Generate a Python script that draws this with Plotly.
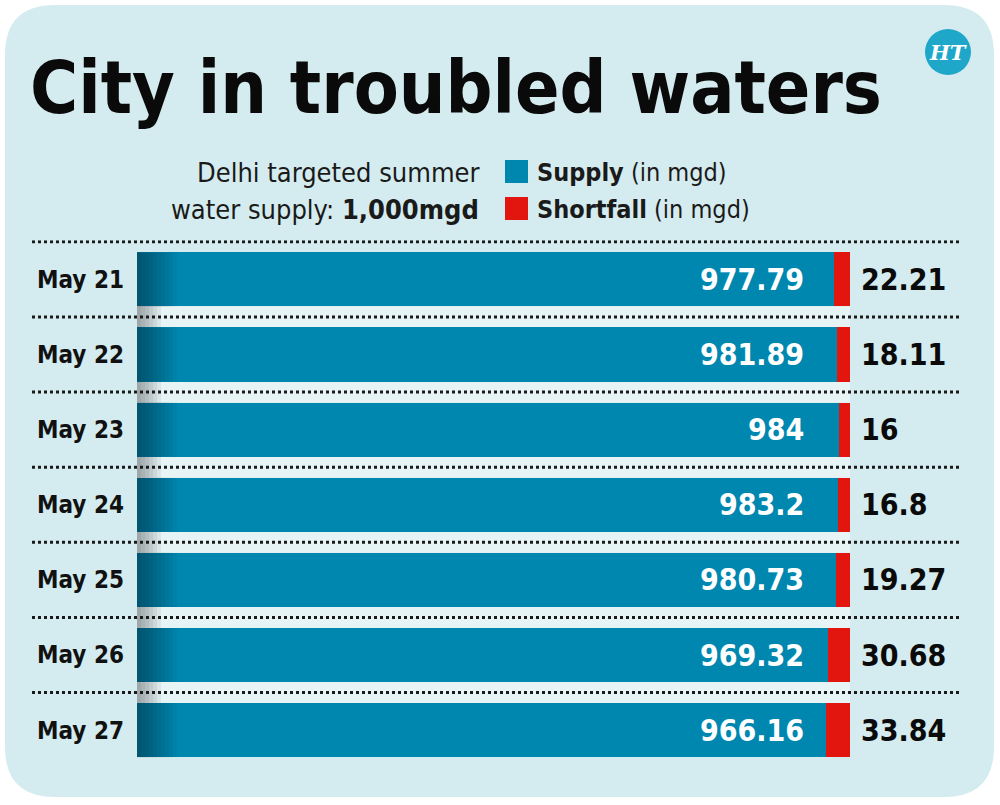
import plotly.graph_objects as go

dates = ["May 21", "May 22", "May 23", "May 24", "May 25", "May 26", "May 27"]
supply = [977.79, 981.89, 984, 983.2, 980.73, 969.32, 966.16]
shortfall = [22.21, 18.11, 16, 16.8, 19.27, 30.68, 33.84]

BLUE = "#0087b0"
RED = "#e2160f"
BG = "#d4ecef"
FONT = "DejaVu Sans Condensed"
W, H = 1000, 805

def px(x):
    return x / W

def py(y):
    return 1 - y / H

fig = go.Figure()
fig.add_trace(go.Bar(y=dates, x=supply, orientation="h", marker=dict(color=BLUE, line=dict(width=0)),
                     name="Supply", width=0.72, hoverinfo="x"))
fig.add_trace(go.Bar(y=dates, x=shortfall, orientation="h", marker=dict(color=RED, line=dict(width=0)),
                     name="Shortfall", width=0.72, hoverinfo="x"))

x0px, x1px = 137, 850
top_px, bot_px = 240.3, 767.7

def px2data(p):
    return (p - x0px) / (x1px - x0px) * 1000

shapes = []
r = 50
L, T, R, B = 5, 5, 994, 797
pts = [("M", [(L + r, T)]), ("L", [(R - r, T)]), ("Q", [(R, T), (R, T + r)]), ("L", [(R, B - r)]),
       ("Q", [(R, B), (R - r, B)]), ("L", [(L + r, B)]), ("Q", [(L, B), (L, B - r)]),
       ("L", [(L, T + r)]), ("Q", [(L, T), (L + r, T)])]
path = " ".join(cmd + " " + " ".join(f"{px(a):.5f},{py(b):.5f}" for a, b in cs) for cmd, cs in pts) + " Z"
shapes.append(dict(type="path", path=path, xref="paper", yref="paper", fillcolor=BG,
                   line=dict(width=0), layer="below"))
shapes.append(dict(type="circle", xref="paper", yref="paper", x0=px(925), x1=px(971), y0=py(75), y1=py(29),
                   fillcolor="#1ea7c9", line=dict(width=0), layer="above"))
shapes.append(dict(type="rect", xref="paper", yref="paper", x0=px(505), x1=px(528), y0=py(183), y1=py(160),
                   fillcolor=BLUE, line=dict(width=0)))
shapes.append(dict(type="rect", xref="paper", yref="paper", x0=px(505), x1=px(528), y0=py(220), y1=py(197),
                   fillcolor=RED, line=dict(width=0)))
# lighter strips in the gaps between bars
for i in range(1, len(dates)):
    shapes.append(dict(type="rect", xref="x", yref="y", x0=0, x1=1000, y0=i - 1 + 0.36, y1=i - 0.36,
                       fillcolor="white", opacity=0.45, line=dict(width=0), layer="below"))
# left shading gradient on bars and gaps
steps = 10
for i in range(len(dates)):
    for k in range(steps):
        shapes.append(dict(type="rect", xref="x", yref="y", x0=0, x1=px2data(137 + 4 * (k + 1)),
                           y0=i - 0.36, y1=i + 0.36, fillcolor="#000000", opacity=0.04,
                           line=dict(width=0), layer="above"))
for i in range(1, len(dates)):
    for k in range(6):
        shapes.append(dict(type="rect", xref="x", yref="y", x0=0, x1=px2data(137 + 4 * (k + 1)),
                           y0=i - 1 + 0.36, y1=i - 0.36, fillcolor="#000000", opacity=0.06,
                           line=dict(width=0), layer="above"))
# dotted separators
for i in range(len(dates)):
    shapes.append(dict(type="line", xref="paper", yref="y", x0=px(32), x1=px(960), y0=i - 0.5, y1=i - 0.5,
                       line=dict(color="#1a1a1a", width=3, dash="dot"), layer="above"))

def ann(x, y, text, size, color="#1a1a1a", xanchor="left", family=FONT):
    return dict(xref="paper", yref="paper", x=px(x), y=py(y), text=text, showarrow=False,
                xanchor=xanchor, yanchor="middle", font=dict(family=family, size=size, color=color))

annotations = [
    ann(28, 87, "<b>City in troubled waters</b>", 73, "#0a0a0a"),
    ann(948, 53, "<b><i>HT</i></b>", 21, "white", "center", "DejaVu Serif"),
    ann(481, 172, "Delhi targeted summer", 27, xanchor="right"),
    ann(481, 209, "water supply: <b>1,000mgd</b>", 27, xanchor="right"),
    ann(535, 172, "<b>Supply</b> (in mgd)", 25),
    ann(535, 209, "<b>Shortfall</b> (in mgd)", 25),
]
for d, s, f in zip(dates, supply, shortfall):
    annotations.append(dict(xref="x", yref="y", x=px2data(806), y=d, text=f"<b>{s:g}</b>",
                            showarrow=False, xanchor="right", yanchor="middle",
                            font=dict(family=FONT, size=30, color="white")))
    annotations.append(dict(xref="paper", yref="y", x=px(859), y=d, text=f"<b>{f:g}</b>",
                            showarrow=False, xanchor="left", yanchor="middle",
                            font=dict(family=FONT, size=30, color="#0a0a0a")))

fig.update_layout(
    width=W, height=H, margin=dict(l=0, r=0, t=0, b=0),
    paper_bgcolor="white", plot_bgcolor="rgba(0,0,0,0)",
    barmode="stack", bargap=0.28, showlegend=False,
    xaxis=dict(domain=[x0px / W, x1px / W], range=[0, 1000], visible=False, fixedrange=True),
    yaxis=dict(domain=[1 - bot_px / H, 1 - top_px / H], autorange="reversed",
               showgrid=False, zeroline=False, showline=False, ticks="",
               ticklabelstandoff=12,
               tickfont=dict(family=FONT, size=24, color="#111", weight="bold")),
    shapes=shapes, annotations=annotations,
)
fig.write_html("out.html", post_script="document.body.style.margin='0';",
               config={"displayModeBar": False})
